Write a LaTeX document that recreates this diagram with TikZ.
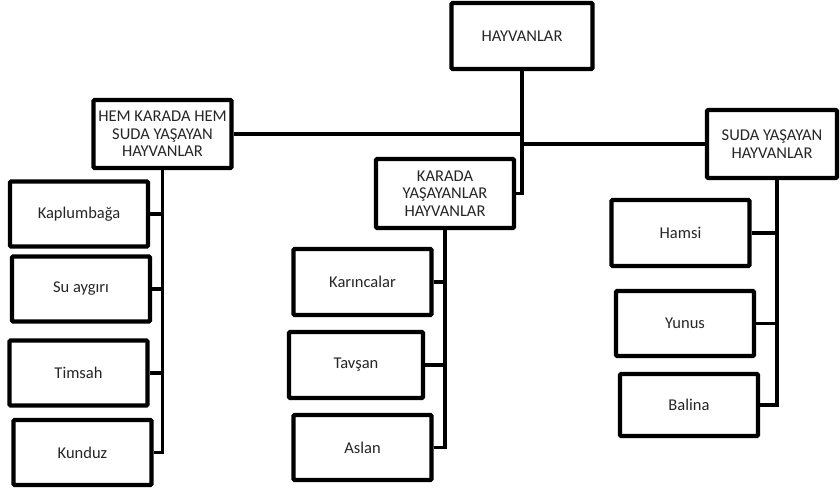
\documentclass[tikz,border=0pt]{standalone}
\usepackage{fontspec}
\setmainfont{Carlito}
\usepackage{tikz}
\usetikzlibrary{calc}
\definecolor{Ink}{HTML}{262626}

\begin{document}
\begin{tikzpicture}[
  x=1pt,y=-1pt,
  box/.style={draw=black,line width=4.2pt,rounded corners=1pt,fill=white,inner sep=0pt,
    align=center,text=Ink,font=\fontsize{16.5}{17.5}\selectfont},
  head/.style={box,minimum width=138pt,minimum height=68pt},
  leaf/.style={box,minimum width=138pt,minimum height=65pt},
  link/.style={line width=3.6pt,draw=black}
]
\useasboundingbox (0,0) rectangle (840,492);
% groups
\node[head,minimum width=141pt,minimum height=66pt] (root) at (522,36) {HAYVANLAR};
\node[head] (both) at (162.5,134) {HEM KARADA HEM\\SUDA YAŞAYAN\\HAYVANLAR};
\node[head,minimum height=69pt] (land) at (445,193.5) {KARADA\\YAŞAYANLAR\\HAYVANLAR};
\node[head,minimum width=130pt] (sea) at (772,144) {SUDA YAŞAYAN\\HAYVANLAR};
% leaves
\node[leaf] (kap) at (79,214) {Kaplumbağa};
\node[leaf] (hippo) at (81,289) {Su aygırı};
\node[leaf] (croc) at (78.5,373) {Timsah};
\node[leaf] (beaver) at (82.5,452.5) {Kunduz};
\node[leaf,minimum height=66pt] (ant) at (362.5,282) {Karıncalar};
\node[leaf,minimum width=134pt,minimum height=66pt] (rabbit) at (356,365) {Tavşan};
\node[leaf] (lion) at (362.5,447.5) {Aslan};
\node[leaf,minimum height=66pt] (anchovy) at (680.5,233) {Hamsi};
\node[leaf] (dolphin) at (685,323.5) {Yunus};
\node[leaf,minimum height=62pt] (whale) at (689,405) {Balina};
\coordinate (seastem) at ($(sea.south)+(5,0)$);
% links
\draw[link] (root.south) |- (land.east);
\draw[link] (both.east -| root.south) -- (both.east);
\draw[link] (sea.west -| root.south) -- (sea.west);
\draw[link] (both.south) |- (beaver.east);
\foreach \n in {kap,hippo,croc} \draw[link] (\n.east) -- (\n.east -| both.south);
\draw[link] (land.south) |- (lion.east);
\foreach \n in {ant,rabbit} \draw[link] (\n.east) -- (\n.east -| land.south);
\draw[link] (seastem) |- (whale.east);
\foreach \n in {anchovy,dolphin} \draw[link] (\n.east) -- (\n.east -| seastem);
\end{tikzpicture}
\end{document}
